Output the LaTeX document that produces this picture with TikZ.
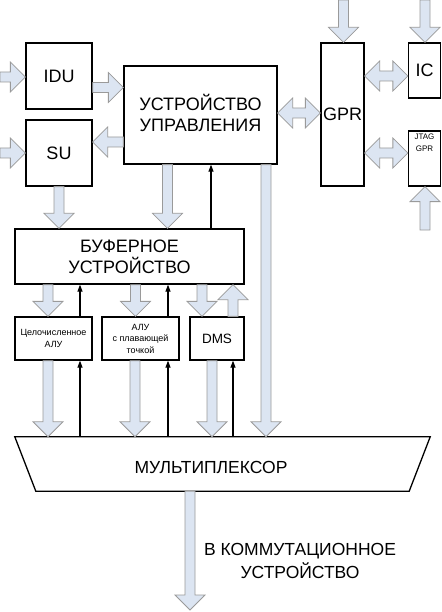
\documentclass[tikz,border=0pt]{standalone}
\usepackage{fontspec}
\setmainfont{Liberation Sans}
\usetikzlibrary{calc,arrows.meta}
\definecolor{afill}{HTML}{DCE5F2}
\definecolor{aline}{HTML}{9A9A9A}
\newcommand\fatarr[2]{%
  \path (#1) coordinate (fs) (#2) coordinate (ft);
  \path ($(ft)!15pt!(fs)$) coordinate (fh);
  \filldraw[fat] ($(fs)!5pt!90:(ft)$) -- ($(fh)!5pt!-90:(fs)$) -- ($(fh)!15pt!-90:(fs)$)
    -- (ft) -- ($(fh)!15pt!90:(fs)$) -- ($(fh)!5pt!90:(fs)$) -- ($(fs)!5pt!-90:(ft)$) -- cycle;}
\newcommand\dblarr[2]{%
  \path (#1) coordinate (fs) (#2) coordinate (ft);
  \path ($(ft)!15pt!(fs)$) coordinate (fh) ($(fs)!15pt!(ft)$) coordinate (fg);
  \filldraw[fat] (fs) -- ($(fg)!15pt!90:(ft)$) -- ($(fg)!5pt!90:(ft)$) -- ($(fh)!5pt!-90:(fs)$)
    -- ($(fh)!15pt!-90:(fs)$) -- (ft) -- ($(fh)!15pt!90:(fs)$) -- ($(fh)!5pt!90:(fs)$)
    -- ($(fg)!5pt!-90:(ft)$) -- ($(fg)!15pt!-90:(ft)$) -- cycle;}
\begin{document}
\begin{tikzpicture}[x=1pt,y=-1pt,
  box/.style={draw,line width=1.3pt,inner sep=0pt,align=center,fill=white},
  big/.style={font=\fontsize{18}{21}\selectfont},
  mid/.style={font=\fontsize{17.5}{23}\selectfont},
  small/.style={font=\fontsize{9}{11.5}\selectfont},
  fat/.style={fill=afill,draw=aline,line width=0.8pt,line join=miter},
  thin/.style={line width=1.1pt,-{Triangle[length=7pt,width=5pt]}}]
\useasboundingbox (0,0) rectangle (441,612);
% boxes
\node[box,big,minimum width=66pt,minimum height=66pt] (idu) at (59,76) {IDU};
\node[box,big,minimum width=66pt,minimum height=66pt] (su) at (59,153) {SU};
\node[box,minimum width=153pt,minimum height=98pt] (uu) at (200.5,115) {};
\node[big,align=center] (uutxt) at (200.5,112.5) {УСТРОЙСТВО\\УПРАВЛЕНИЯ};
\node[box,big,minimum width=43pt,minimum height=143pt] (gpr) at (342.5,114.5) {GPR};
\node[box,big,minimum width=32pt,minimum height=55pt] (ic) at (424.5,70.5) {IC};
\node[box,minimum width=32pt,minimum height=55pt] (jtag) at (424.5,158.5) {};
\node[font=\fontsize{8}{12}\selectfont,align=center,anchor=north,inner sep=1pt] (jtagtxt) at (jtag.north) {\rule{0pt}{8pt}JTAG\\GPR};
\node[box,big,minimum width=229pt,minimum height=55pt] (buf) at (129.5,256.5) {БУФЕРНОЕ\\УСТРОЙСТВО};
\node[box,small,minimum width=77pt,minimum height=43pt] (ialu) at (53.5,338.5) {Целочисленное\\АЛУ};
\node[box,small,minimum width=77pt,minimum height=43pt] (falu) at (140.5,338.5) {АЛУ\\с плавающей\\точкой};
\node[box,font=\fontsize{13.5}{16}\selectfont,minimum width=54pt,minimum height=43pt] (dms) at (217,338.5) {DMS};
% multiplexer
\node[minimum width=415pt,minimum height=54pt,inner sep=0pt] (mux) at (222.5,464) {};
\draw[line width=1.3pt] (mux.north west) -- (mux.north east) -- ($(mux.south east)+(-21,0)$)
  -- ($(mux.south west)+(21,0)$) -- cycle;
\node[mid] (muxtxt) at (211,467) {МУЛЬТИПЛЕКСОР};
% connector end points
\coordinate (inidu) at (0,77);
\coordinate (insu) at (0,153);
\coordinate (ingpr) at (343.5,0);
\coordinate (inic) at (425,0);
\coordinate (injtag) at (425,230);
\coordinate (out) at (190,610);
\coordinate (a1) at ($(idu.east)+(0,11.5)$);
\coordinate (a2) at ($(uu.west)+(0,27)$);
\coordinate (a3) at ($(uu.east)+(0,-2)$);
\coordinate (a4) at ($(gpr.east)+(0,-38.5)$);
\coordinate (a5) at ($(gpr.east)+(0,38.5)$);
\coordinate (a6) at ($(uu.south)+(-33,0)$);
\coordinate (a7) at ($(uu.south)+(65.5,0)$);
\coordinate (b1) at ($(ialu.north)+(-5.5,0)$);
\coordinate (b2) at ($(falu.north)+(-5,0)$);
\coordinate (b3) at ($(dms.north)+(-15,0)$);
\coordinate (b4) at ($(dms.north)+(16,0)$);
\coordinate (c1) at ($(ialu.south)+(-5.5,0)$);
\coordinate (c2) at ($(falu.south)+(-5.5,0)$);
\coordinate (c3) at ($(dms.south)+(-5,0)$);
\coordinate (t0) at ($(uu.south)+(10.5,0)$);
\coordinate (t1) at ($(ialu.north)+(26.5,0)$);
\coordinate (t2) at ($(falu.north)+(27.5,0)$);
\coordinate (t3) at ($(ialu.south)+(26.5,0)$);
\coordinate (t4) at ($(falu.south)+(27.5,0)$);
\coordinate (t5) at ($(dms.south)+(16,0)$);
% fat arrows
\fatarr{inidu}{inidu -| idu.west}
\fatarr{insu}{insu -| su.west}
\fatarr{a1}{a1 -| uu.west}
\fatarr{a2}{a2 -| su.east}
\dblarr{a3}{a3 -| gpr.west}
\dblarr{a4}{a4 -| ic.west}
\dblarr{a5}{a5 -| jtag.west}
\fatarr{ingpr}{ingpr |- gpr.north}
\fatarr{inic}{inic |- ic.north}
\fatarr{injtag}{injtag |- jtag.south}
\fatarr{su.south}{su.south |- buf.north}
\fatarr{a6}{a6 |- buf.north}
\fatarr{a7}{a7 |- mux.north}
\fatarr{b1 |- buf.south}{b1}
\fatarr{b2 |- buf.south}{b2}
\fatarr{b3 |- buf.south}{b3}
\fatarr{b4}{b4 |- buf.south}
\fatarr{c1}{c1 |- mux.north}
\fatarr{c2}{c2 |- mux.north}
\fatarr{c3}{c3 |- mux.north}
\fatarr{mux.south -| out}{out}
% thin arrows
\draw[thin] (t0 |- buf.north) -- (t0);
\draw[thin] (t1) -- (t1 |- buf.south);
\draw[thin] (t2) -- (t2 |- buf.south);
\draw[thin] (t3 |- mux.north) -- (t3);
\draw[thin] (t4 |- mux.north) -- (t4);
\draw[thin] (t5 |- mux.north) -- (t5);
% output label
\node[mid,align=center] (outlbl) at (300,561) {В КОММУТАЦИОННОЕ\\УСТРОЙСТВО};
\end{tikzpicture}
\end{document}
